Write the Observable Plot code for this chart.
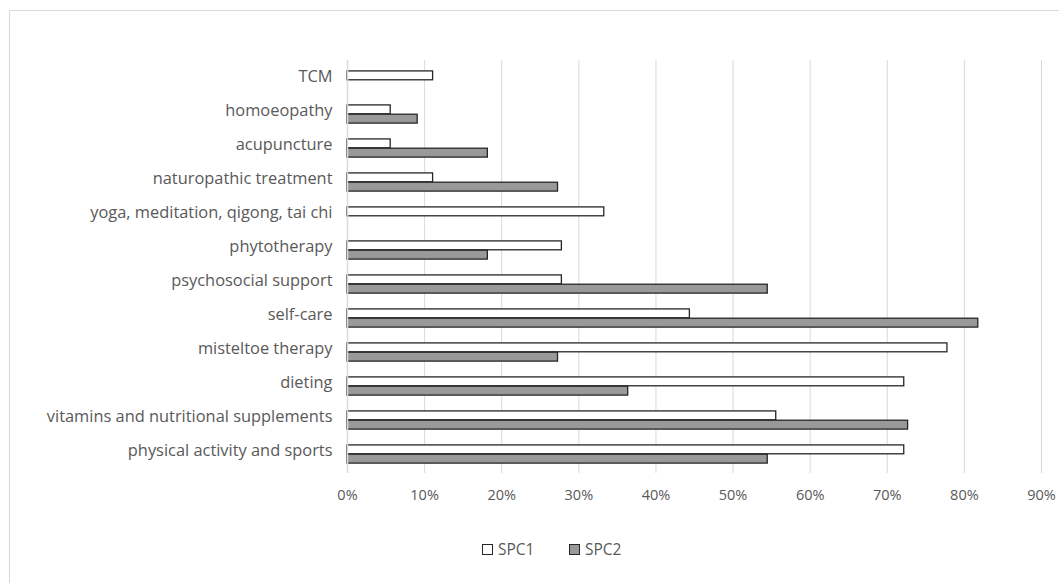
<!DOCTYPE html>
<html>
<head>
<meta charset="utf-8">
<script src="https://cdn.jsdelivr.net/npm/d3@7"></script>
<script src="https://cdn.jsdelivr.net/npm/@observablehq/plot@0.6"></script>
<style>
  html, body { margin: 0; padding: 0; background: #fff; overflow: hidden; width: 1059px; height: 583px; }
  #frame { position: absolute; left: 9px; top: 10px; width: 1200px; height: 700px; border: 1px solid #d9d9d9; box-sizing: border-box; }
  #chart { position: absolute; left: 0; top: 0; }
  #legend { position: absolute; top: 538px; left: 0; width: 1059px; font-family: "Open Sans", sans-serif; font-size: 15.5px; color: #595959; }
  .item { position: absolute; display: flex; align-items: center; }
  .sw { width: 9px; height: 9px; border: 1px solid #262626; margin-right: 5px; }
</style>
</head>
<body>
<div id="frame"></div>
<div id="chart"></div>
<div id="legend">
  <div class="item" style="left:482px;"><span class="sw" style="background:#fff"></span><span>SPC1</span></div>
  <div class="item" style="left:569px;"><span class="sw" style="background:#999"></span><span>SPC2</span></div>
</div>
<script>
const categories = [
  "TCM",
  "homoeopathy",
  "acupuncture",
  "naturopathic treatment",
  "yoga, meditation, qigong, tai chi",
  "phytotherapy",
  "psychosocial support",
  "self-care",
  "misteltoe therapy",
  "dieting",
  "vitamins and nutritional supplements",
  "physical activity and sports"
];
const spc1 = [11.1, 5.6, 5.6, 11.1, 33.3, 27.8, 27.8, 44.4, 77.8, 72.2, 55.6, 72.2];
const spc2 = [0, 9.1, 18.2, 27.3, 0, 18.2, 54.5, 81.8, 27.3, 36.4, 72.7, 54.5];
const xTicks = [0, 10, 20, 30, 40, 50, 60, 70, 80, 90];

const rows1 = categories.map((c, i) => ({category: c, value: spc1[i]}));
const rows2 = categories.map((c, i) => ({category: c, value: spc2[i]})).filter(d => d.value > 0);

const marginTop = 60, height = 520, marginBottom = 47;
const band = (height - marginTop - marginBottom) / categories.length;
const half = band / 2;
const barH = 9.3;

const chart = Plot.plot({
  width: 1059,
  height,
  marginLeft: 347,
  marginRight: 18,
  marginTop,
  marginBottom,
  style: { fontFamily: "'Open Sans', sans-serif", color: "#595959", background: "transparent" },
  x: { domain: [0, 90], ticks: xTicks, tickFormat: d => d + "%", label: null },
  y: { domain: categories, padding: 0, label: null },
  marks: [
    Plot.gridX(xTicks, { stroke: "#d9d9d9", strokeOpacity: 1, strokeWidth: 1 }),
    Plot.axisX({ ticks: xTicks, tickFormat: d => d + "%", tickSize: 0, tickPadding: 16, fontSize: 14.5, label: null, fill: "#595959" }),
    Plot.axisY({ tickSize: 0, tickPadding: 15, fontSize: 16.4, dy: -4, label: null, fill: "#595959" }),
    Plot.barX(rows1, { x: "value", y: "category", fill: "#fff", stroke: "#262626", strokeWidth: 1.3, insetTop: half - barH, insetBottom: half }),
    Plot.barX(rows2, { x: "value", y: "category", fill: "#999", stroke: "#262626", strokeWidth: 1.3, insetTop: half, insetBottom: half - barH }),
    Plot.ruleX([0], { stroke: "#d9d9d9", strokeWidth: 1.5 })
  ]
});
document.getElementById("chart").appendChild(chart);
</script>
</body>
</html>
